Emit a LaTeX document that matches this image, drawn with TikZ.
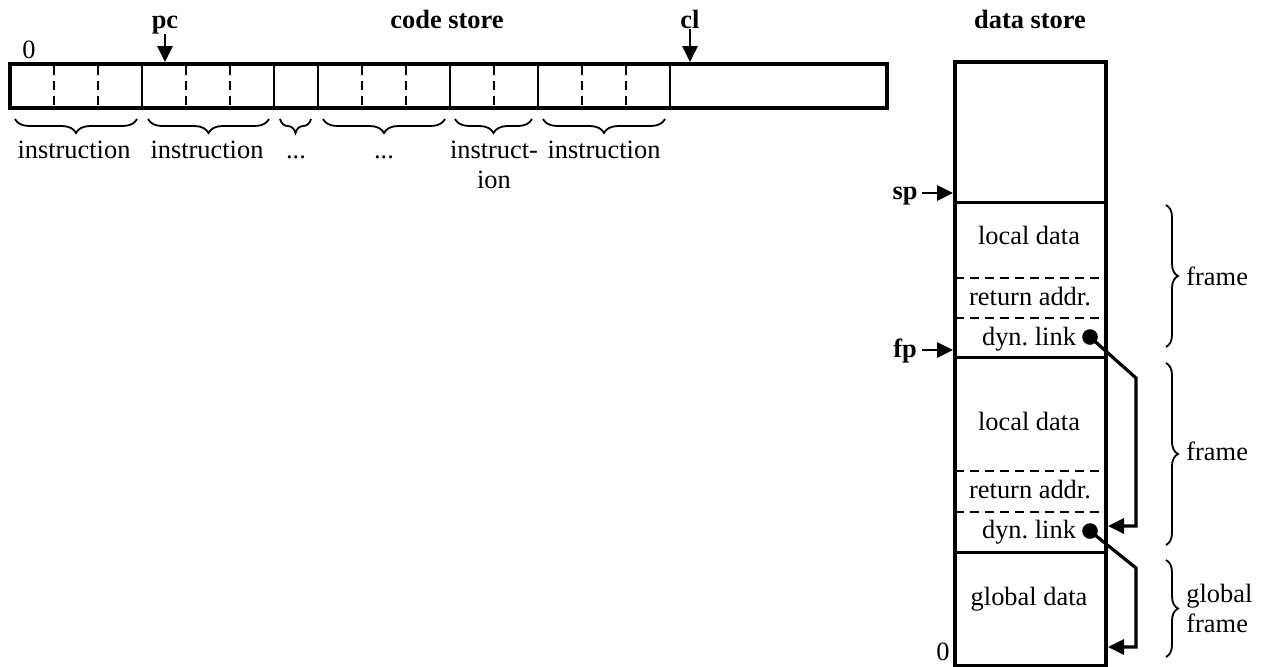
\documentclass[tikz,border=0pt]{standalone}
\usepackage{fontspec}
\setmainfont{Liberation Serif}
\usetikzlibrary{decorations.pathreplacing,arrows.meta}
\begin{document}
\begin{tikzpicture}[x=0.5pt,y=-0.5pt,
  font=\fontsize{13.2}{15}\selectfont,
  outer/.style={line width=2pt},
  cellline/.style={line width=1pt},
  hline/.style={line width=1.5pt},
  dsh/.style={line width=0.7pt, dash pattern=on 4.5pt off 3pt},
  ptr/.style={line width=1.4pt, -{Triangle[length=8pt,width=7.5pt]}},
  link/.style={line width=1.6pt, -{Triangle[length=8pt,width=7.5pt]}},
  brc/.style={decorate, decoration={brace, amplitude=#1}, line width=0.9pt},
  brc/.default=7pt,
  lbl/.style={inner sep=0pt, anchor=base},
  blbl/.style={inner sep=0pt, anchor=base, font=\fontsize{13.2}{15}\selectfont\bfseries},
  ulbl/.style={inner sep=0pt, anchor=north, align=center},
  dot/.style={circle, fill, inner sep=0pt, minimum size=7.8pt}
]
\useasboundingbox (0,0) rectangle (1264,666);

% ---------- code store ----------
\node[blbl] (codestore) at (447,28) {code store};
\node[lbl] (zero1) at (29,58) {0};
\node[blbl] (pc) at (165,28) {pc};
\node[blbl] (cl) at (690,28) {cl};
\coordinate (pcend) at (165,62);
\coordinate (clend) at (690,62);

\foreach \x in {54,98,186,230,362,406,494,582,626}
  \draw[dsh] (\x,66) -- (\x,106);
\foreach \x in {142,274,318,450,538,670}
  \draw[cellline] (\x,64) -- (\x,108);
\draw[outer] (10,64) rectangle (887,108);

\draw[ptr] (pc.south) -- (pcend);
\draw[ptr] (cl.south) -- (clend);

\draw[brc] (137,119) -- (15,119);
\draw[brc] (269,119) -- (148,119);
\draw[brc] (311,119) -- (280,119);
\draw[brc] (445,119) -- (323,119);
\draw[brc] (532,119) -- (455,119);
\draw[brc] (665,119) -- (543,119);

\node[ulbl] (i1) at (74,137) {\strut instruction};
\node[ulbl] (i2) at (207,137) {\strut instruction};
\node[ulbl] (i3) at (296,137) {\strut ...};
\node[ulbl] (i4) at (384,137) {\strut ...};
\node[ulbl] (i5) at (494,137) {\strut instruct-\\\strut ion};
\node[ulbl] (i6) at (604,137) {\strut instruction};

% ---------- data store ----------
\node[blbl] (datastore) at (1030,28) {data store};

\draw[hline] (955,202) -- (1106,202);
\draw[hline] (955,357) -- (1106,357);
\draw[hline] (955,552) -- (1106,552);
\draw[dsh] (955,278) -- (1106,278);
\draw[dsh] (955,318) -- (1106,318);
\draw[dsh] (955,471) -- (1106,471);
\draw[dsh] (955,512) -- (1106,512);
\draw[outer] (955,62) rectangle (1106,666);

\node[lbl] (ld1) at (1029,244) {local data};
\node[lbl] (ra1) at (1030,305) {return addr.};
\node[lbl] (dl1) at (1029,345) {dyn.\ link};
\node[lbl] (ld2) at (1029,430) {local data};
\node[lbl] (ra2) at (1030,498) {return addr.};
\node[lbl] (dl2) at (1029,538) {dyn.\ link};
\node[lbl] (gd) at (1029,605) {global data};

\node[blbl] (sp) at (905,199) {sp};
\node[blbl] (fp) at (905,357) {fp};
\coordinate (spstart) at (922,193);
\coordinate (spend) at (953,193);
\coordinate (fpstart) at (922,350);
\coordinate (fpend) at (953,350);
\draw[ptr] (spstart) -- (spend);
\draw[ptr] (fpstart) -- (fpend);
\node[lbl] (zero2) at (943,660) {0};

% dynamic links
\node[dot] (dot1) at (1090,337) {};
\node[dot] (dot2) at (1090,531) {};
\coordinate (b1) at (1136,378);
\coordinate (c1) at (1136,526);
\coordinate (t1) at (1108,526);
\coordinate (b2) at (1136,568);
\coordinate (c2) at (1136,647);
\coordinate (t2) at (1108,647);
\draw[link] (dot1.center) -- (b1) -- (c1) -- (t1);
\draw[link] (dot2.center) -- (b2) -- (c2) -- (t2);

% frame braces
\draw[brc=6pt] (1166,205) -- (1166,347);
\draw[brc=6pt] (1166,363) -- (1166,545);
\draw[brc=6pt] (1166,560) -- (1166,657);
\node[lbl, anchor=base west] (f1) at (1186,285) {frame};
\node[lbl, anchor=base west] (f2) at (1186,460) {frame};
\node[ulbl, anchor=west, align=left] (f3) at (1186,608) {global\\frame};
\end{tikzpicture}
\end{document}
